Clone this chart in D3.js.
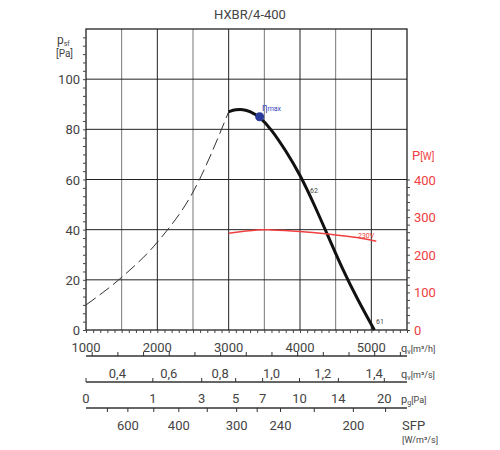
<!DOCTYPE html><html><head><meta charset="utf-8"><script src="https://cdn.jsdelivr.net/npm/d3@7"></script>
<style>body{margin:0;background:#fff}text{font-family:Roboto,sans-serif;fill:#444}</style></head><body><svg id="c" width="500" height="450"></svg>
<script>
const title="HXBR/4-400";
const qTicks=[1000,2000,3000,4000,5000];
const pTicks=[0,20,40,60,80,100];
const powTicks=[0,100,200,300,400];
const qsTicks=[0.4,0.6,0.8,1.0,1.2,1.4];
const pgLabels=["0","1","3","5","7","10","14","20"];
const pgPos=[1000,1937,2622,3098,3476,3993,4538,5182];
const sfpLabels=["600","400","300","240","200"];
const sfpPos=[1587,2301,3112,3727,4748];
const sfpMinor=[1300,1950,2700,3400,4200,5200];
const dashed=[[1000,10],[1500,21],[2000,35],[2500,55],[3000,87]];
const fanCurve=[[3000,87],[3100,87.9],[3200,88],[3300,87.2],[3434,85],[3600,80],[3800,71.5],[4000,62],[4200,50],[4400,37],[4600,24],[4800,12.5],[5042,0]];
const powCurve=[[3000,257],[3400,266],[3600,266],[4000,262],[4400,255],[4800,246],[5070,236]];
const etaMax=[3434,85];

const svg=d3.select("#c");
const x=d3.scaleLinear().domain([1000,5500]).range([86,407]);
const y=d3.scaleLinear().domain([0,120]).range([330,29]);
const yP=d3.scaleLinear().domain([0,800]).range([330,29]);
const fmt=d=>d.toFixed(1).replace(".",",");

svg.append("text").attr("x",250).attr("y",19).attr("text-anchor","middle").attr("font-size",13).text(title);
for(let q=1500;q<5500;q+=500) svg.append("line").attr("x1",x(q)).attr("x2",x(q)).attr("y1",29).attr("y2",330).attr("stroke",q%1000?"#777":"#222").attr("stroke-width",1);
for(let p=20;p<=100;p+=20) svg.append("line").attr("x1",86).attr("x2",407).attr("y1",y(p)).attr("y2",y(p)).attr("stroke","#222");
svg.append("rect").attr("x",86).attr("y",29).attr("width",321).attr("height",301).attr("fill","none").attr("stroke","#222").attr("stroke-width",1.3);
const la=svg.append("g").attr("transform","translate(86,0)").call(d3.axisLeft(y).tickValues(d3.range(0,120,10/3)).tickSize(3).tickFormat(""));
la.select(".domain").remove();la.selectAll("line").attr("stroke","#444");
pTicks.forEach(p=>svg.append("text").attr("x",80).attr("y",y(p)+5).attr("text-anchor","end").attr("font-size",13).text(p));
svg.append("text").attr("x",57).attr("y",44).attr("font-size",12).html('p<tspan font-size="7" dy="2">sf</tspan>');
svg.append("text").attr("x",56).attr("y",57).attr("font-size",10).text("[Pa]");
const ra=svg.append("g").attr("transform","translate(407,0)").call(d3.axisRight(yP).tickValues(d3.range(0,420,20)).tickSize(3).tickFormat(""));
ra.select(".domain").remove();ra.selectAll("line").attr("stroke","#444");
powTicks.forEach(p=>svg.append("text").attr("x",414).attr("y",yP(p)+5).attr("font-size",13).style("fill","#f04040").text(p));
svg.append("text").attr("x",412).attr("y",160).attr("font-size",13).style("fill","#f04040").html('P<tspan font-size="10">[W]</tspan>');
const ba=svg.append("g").attr("transform","translate(0,330)").call(d3.axisBottom(x).tickValues(d3.range(1000,5501,100)).tickSize(3).tickFormat(""));
ba.select(".domain").remove();ba.selectAll("line").attr("stroke","#444");
qTicks.forEach(q=>svg.append("text").attr("x",x(q)).attr("y",352).attr("text-anchor","middle").attr("font-size",13).text(q));
svg.append("text").attr("x",401).attr("y",352).attr("font-size",11).html('q<tspan font-size="7" dy="2">v</tspan><tspan dy="-2" font-size="9">[m³/h]</tspan>');
const xs=d3.scaleLinear().domain([1000/3600,5500/3600]).range([86,407]);
svg.append("line").attr("x1",86).attr("x2",407).attr("y1",356).attr("y2",356).attr("stroke","#333").attr("stroke-width",1.3);
const sa=svg.append("g").attr("transform","translate(0,356)").call(d3.axisTop(xs).tickValues(d3.range(0.3,1.53,0.1)).tickSize(4).tickFormat(""));
sa.select(".domain").remove();sa.selectAll("line").attr("stroke","#333");
qsTicks.forEach(q=>svg.append("text").attr("x",xs(q)).attr("y",378).attr("text-anchor","middle").attr("font-size",13).text(fmt(q)));
svg.append("text").attr("x",401).attr("y",378).attr("font-size",11).html('q<tspan font-size="7" dy="2">v</tspan><tspan dy="-2" font-size="9">[m³/s]</tspan>');
svg.append("line").attr("x1",86).attr("x2",407).attr("y1",382).attr("y2",382).attr("stroke","#333").attr("stroke-width",1.3);
pgPos.forEach((q,i)=>{svg.append("line").attr("x1",x(q)).attr("x2",x(q)).attr("y1",382).attr("y2",378).attr("stroke","#333");
 svg.append("text").attr("x",x(q)).attr("y",403).attr("text-anchor","middle").attr("font-size",13).text(pgLabels[i]);});
svg.append("text").attr("x",401).attr("y",403).attr("font-size",11).html('p<tspan font-size="7" dy="2">g</tspan><tspan dy="-2" font-size="9">[Pa]</tspan>');
svg.append("line").attr("x1",86).attr("x2",407).attr("y1",408).attr("y2",408).attr("stroke","#333").attr("stroke-width",1.3);
sfpPos.concat(sfpMinor).forEach(q=>svg.append("line").attr("x1",x(q)).attr("x2",x(q)).attr("y1",408).attr("y2",412).attr("stroke","#333"));
sfpPos.forEach((q,i)=>svg.append("text").attr("x",x(q)).attr("y",430).attr("text-anchor","middle").attr("font-size",13).text(sfpLabels[i]));
svg.append("text").attr("x",402).attr("y",430).attr("font-size",13).text("SFP");
svg.append("text").attr("x",402).attr("y",443).attr("font-size",9).text("[W/m³/s]");
const line=d3.line().x(d=>x(d[0])).y(d=>y(d[1])).curve(d3.curveMonotoneX);
svg.append("path").attr("d",line(dashed)).attr("fill","none").attr("stroke","#333").attr("stroke-dasharray","12,5");
svg.append("path").attr("d",d3.line().x(d=>x(d[0])).y(d=>y(d[1])).curve(d3.curveBasis)(fanCurve)).attr("fill","none").attr("stroke","#111").attr("stroke-width",3);
svg.append("path").attr("d",d3.line().x(d=>x(d[0])).y(d=>yP(d[1])).curve(d3.curveCatmullRom)(powCurve)).attr("fill","none").attr("stroke","#f04040").attr("stroke-width",1.5);
svg.append("circle").attr("cx",x(etaMax[0])).attr("cy",y(etaMax[1])).attr("r",4.5).attr("fill","#2a3a9a");
svg.append("text").attr("x",262).attr("y",111).attr("font-size",10).style("fill","#3848c0").html('η<tspan font-size="7">max</tspan>');
svg.append("text").attr("x",310).attr("y",193).attr("font-size",7).text("62");
svg.append("text").attr("x",376).attr("y",324).attr("font-size",7).text("61");
svg.append("text").attr("x",358).attr("y",238).attr("font-size",7).style("fill","#f04040").text("230V");
</script></body></html>
